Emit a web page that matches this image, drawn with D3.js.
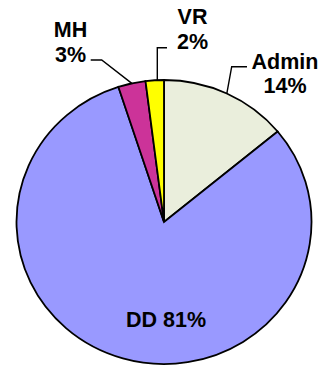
<!DOCTYPE html>
<html>
<head>
<meta charset="utf-8">
<script src="https://cdn.jsdelivr.net/npm/d3@7"></script>
<style>
  html, body { margin: 0; padding: 0; background: #fff; }
  svg { display: block; }
  text { font-family: "Liberation Sans", Arial, sans-serif; font-weight: bold; fill: #000; }
</style>
</head>
<body>
<svg id="chart" width="326" height="366"></svg>
<script>
// Budget shares by program area
const categories = ["Admin", "DD", "MH", "VR"];
const shares = [14, 81, 3, 2];
const sliceColors = ["#EAEEDC", "#9999FF", "#CC3399", "#FFFF00"];

const W = 326, H = 366;
const cx = 164, cy = 222;
const rx = 147.5, ry = 142;

const svg = d3.select("#chart");

const pie = d3.pie().sort(null).value(d => d.value);
const arcs = pie(categories.map((c, i) => ({ name: c, value: shares[i], color: sliceColors[i] })));

const arc = d3.arc().innerRadius(0).outerRadius(ry);

// the plot area is slightly wider than tall, so the pie is an ellipse
const pieG = svg.append("g")
  .attr("transform", `translate(${cx},${cy}) scale(${rx / ry},1)`);

pieG.selectAll("path")
  .data(arcs)
  .join("path")
  .attr("d", arc)
  .attr("fill", d => d.data.color)
  .attr("stroke", "#000")
  .attr("stroke-width", 1.8)
  .attr("stroke-linejoin", "miter")
  .attr("vector-effect", "non-scaling-stroke");

// point on the outer rim at the slice's middle angle
function rimPoint(d) {
  const a = (d.startAngle + d.endAngle) / 2;
  return [cx + rx * Math.sin(a), cy - ry * Math.cos(a)];
}

// label layout: text anchor point and leader elbow path (start, elbow)
const labelLayout = {
  Admin: { x: 285, y: 68.5, lines: ["Admin", "14%"], leader: [[247, 66.7], [231.7, 66.7]] },
  MH:    { x: 70.5, y: 37, lines: ["MH", "3%"], leader: [[90.7, 60], [101.7, 60]] },
  VR:    { x: 192.5, y: 24, lines: ["VR", "2%"], leader: [[167, 47.7], [157.3, 47.7]] }
};

const fontSize = 21.5;
const lineGap = 24.5;

arcs.forEach(d => {
  const name = d.data.name;
  if (name === "DD") {
    svg.append("text")
      .attr("x", 166)
      .attr("y", 326.5)
      .attr("text-anchor", "middle")
      .attr("font-size", fontSize)
      .text(`${name} ${d.data.value}%`);
    return;
  }
  const L = labelLayout[name];
  const t = svg.append("text")
    .attr("text-anchor", "middle")
    .attr("font-size", fontSize);
  t.append("tspan").attr("x", L.x).attr("y", L.y).text(name);
  t.append("tspan").attr("x", L.x).attr("y", L.y + lineGap).text(`${d.data.value}%`);

  let end = rimPoint(d);
  if (name === "VR") end = [L.leader[1][0], end[1]];
  const pts = [...L.leader, end];
  svg.append("path")
    .attr("d", d3.line()(pts))
    .attr("fill", "none")
    .attr("stroke", "#000")
    .attr("stroke-width", 1.4);
});
</script>
</body>
</html>
